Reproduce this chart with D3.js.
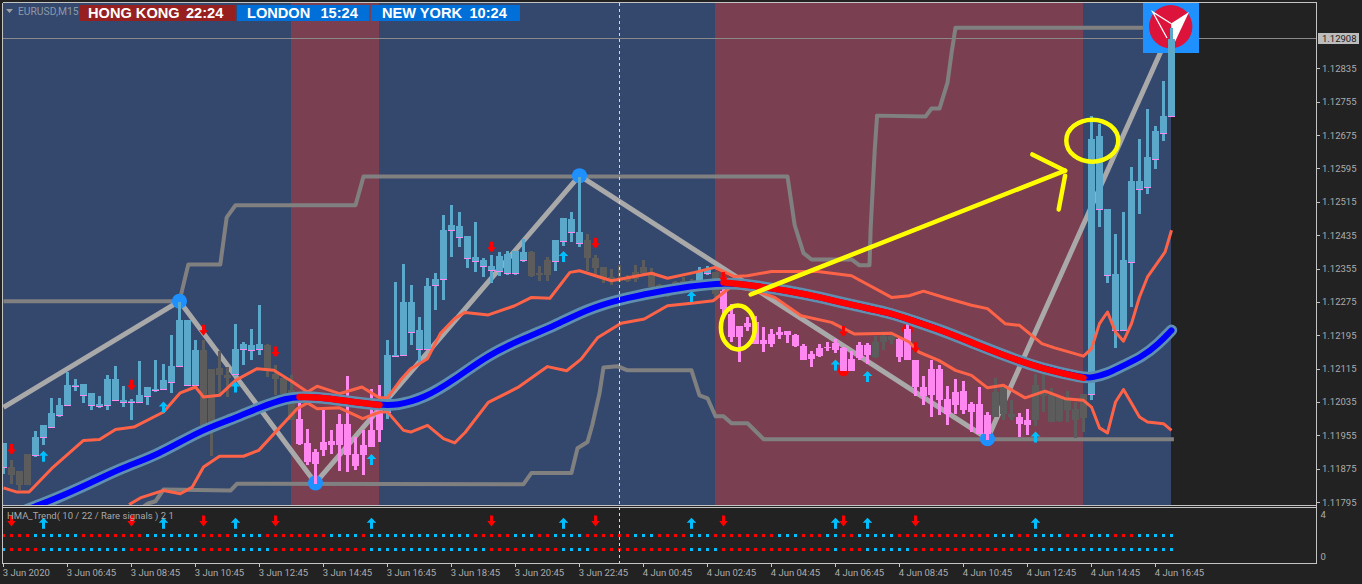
<!DOCTYPE html>
<html><head><meta charset="utf-8">
<script src="https://cdn.jsdelivr.net/npm/d3@7"></script>
<style>html,body{margin:0;padding:0;background:#222;overflow:hidden}svg{display:block}text{font-family:Roboto,"Liberation Sans",Arial,sans-serif}</style>
</head><body><div id="chart"></div>
<script>
// Prices are in points above 1.00000 (12908 = 1.12908). Every series is indexed by M15 bar number.
const highs=[11938,11896,11870,11912,11966,11980,12046,12046,12108,12092,
12080,12058,12050,12100,12122,12074,12044,12134,12072,12138,
12128,12196,12276,12232,12184,12184,12116,12158,12120,12222,
12180,12212,12268,12176,12126,12094,12100,12036,11972,11924,
12016,11970,12008,12098,11952,11970,12068,12076,12184,12325,
12366,12316,12240,12333,12345,12484,12508,12493,12435,12469,
12381,12389,12397,12399,12399,12427,12399,12363,12385,12425,
12477,12493,12575,12439,12389,12359,12355,12365,12341,12365,
12377,12357,12319,12315,12327,12335,12331,12359,12363,12349,
12307,12271,12219,12239,12243,12215,12211,12217,12207,12199,
12175,12159,12175,12179,12187,12167,12159,12179,12177,12195,
12199,12199,12191,12224,12138,12098,12136,12124,12074,12092,
12086,12036,12072,12012,12094,12076,12042,12010,12020,12104,
12104,12070,12048,12062,12036,12056,12721,12704,12500,12440,
12493,12599,12668,12740,12699,12807,12934];
const bodyTops=[11938,11880,11870,11912,11952,11980,12010,12030,12076,12078,
12080,12058,12032,12092,12092,12042,12038,12054,12072,12068,
12088,12122,12232,12232,12162,12160,12116,12118,12100,12164,
12176,12172,12174,12172,12104,12094,12064,11996,11938,11916,
11940,11942,11984,11984,11912,11932,11970,12024,12148,12150,
12275,12276,12208,12314,12330,12448,12460,12459,12435,12385,
12377,12363,12387,12391,12399,12395,12395,12345,12377,12425,
12477,12475,12443,12425,12381,12359,12335,12331,12335,12349,
12359,12347,12317,12311,12323,12327,12327,12347,12355,12347,
12303,12247,12219,12225,12227,12185,12199,12203,12207,12197,
12171,12151,12165,12169,12177,12165,12139,12173,12173,12179,
12195,12195,12187,12212,12138,12072,12116,12116,12044,12060,
12062,12032,12032,12006,12060,12072,12008,12000,11992,12076,
12064,12052,12048,12040,12020,12056,12668,12673,12500,12342,
12376,12565,12565,12623,12685,12723,12908];
const bodyBottoms=[11880,11862,11836,11838,11908,11952,11976,12006,12030,12074,
12054,12030,12026,12030,12042,12037,12035,12036,12050,12066,
12068,12085,12122,12076,12078,11980,11976,12100,12094,12104,
12164,12162,12163,12116,12091,12056,11992,11936,11892,11888,
11920,11934,11932,11908,11882,11908,11928,11968,12012,12146,
12148,12204,12164,12164,12316,12330,12448,12433,12381,12375,
12363,12353,12351,12345,12345,12377,12339,12341,12341,12375,
12423,12443,12417,12381,12357,12333,12331,12327,12327,12331,
12345,12311,12299,12291,12309,12313,12313,12325,12345,12295,
12259,12191,12193,12217,12175,12175,12175,12197,12197,12171,
12137,12139,12147,12165,12161,12111,12111,12141,12149,12143,
12179,12185,12143,12136,12072,12050,12054,12040,12008,12030,
12018,12012,11960,11960,12000,12008,12000,11984,11982,11992,
12050,11988,11990,12018,11994,11998,12056,12500,12340,12208,
12208,12371,12548,12551,12620,12682,12721];
const lows=[11864,11840,11824,11838,11904,11932,11974,12000,12028,12062,
12034,12018,12022,12018,12040,12024,11994,12036,12028,12060,
12066,12058,12120,12076,12076,11980,11906,12052,12048,12098,
12126,12138,12150,12096,12054,12056,11992,11932,11884,11840,
11906,11912,11870,11868,11872,11860,11928,11940,11996,12146,
12148,12172,12124,12164,12256,12280,12383,12409,12357,12347,
12335,12321,12339,12341,12341,12373,12337,12327,12327,12351,
12411,12419,12409,12351,12343,12321,12317,12323,12323,12325,
12343,12311,12295,12287,12307,12311,12311,12323,12341,12287,
12247,12181,12133,12207,12175,12157,12167,12187,12177,12167,
12137,12119,12143,12159,12153,12111,12111,12137,12127,12141,
12161,12175,12131,12136,12050,12028,12000,12004,11980,12008,
12008,11964,11960,11944,12000,11994,11994,11952,11958,11978,
12012,11988,11988,11988,11950,11964,12042,12457,12321,12165,
12206,12263,12488,12536,12594,12661,12721];
// candle colour runs: [first bar, kind]  b=up, p=down, g=neutral
const candleKindRuns=[[0,'b'],[1,'g'],[4,'b'],[25,'g'],[29,'b'],[33,'g'],[37,'p'],[48,'b'],[66,'g'],[69,'b'],[73,'g'],[87,'b'],[89,'g'],[90,'p'],[109,'g'],[112,'p'],[124,'g'],[127,'p'],[129,'g'],[136,'b']];

const upperBand=[[0,11830],[1.7,11820],[3.2,11820],[6,11876],[10,11944],[12,11946],[14,11970],[16.3,11976],[20,12012],[22.1,12058],[24,12072],[25,12048],[27,12052],[29,12088],[31.7,12116],[33.8,12112],[36,12086],[38,12060],[39.2,12074],[42,12056],[44.8,12072],[47,12046],[48,12046],[49.6,12088],[50.9,12116],[53,12140],[54.6,12200],[56.4,12236],[57.7,12251],[60.6,12245],[63.9,12267],[66,12287],[68.3,12285],[70.8,12347],[72,12351],[76,12327],[81,12345],[83,12333],[86.4,12347],[88.9,12359],[91.4,12337],[93,12339],[96,12349],[101.8,12349],[106,12339],[111,12287],[113.2,12291],[115,12302],[117.7,12286],[121,12268],[123,12260],[125.2,12224],[127,12220],[129.8,12176],[131.4,12166],[135,12146],[136,12164],[137,12224],[138,12252],[139,12204],[140,12182],[141,12224],[142,12288],[143,12336],[145.2,12396],[146,12448]];
const lowerBand=[[15.7,11790],[17.1,11806],[20,11824],[22.1,11816],[23.6,11832],[25,11880],[27,11906],[30,11906],[31.9,11920],[34.2,11968],[36.7,12020],[38,12034],[39.2,12020],[42,12022],[44.9,11996],[47,12012],[48,12012],[50,11968],[50.9,11964],[53,11980],[55,11948],[56.4,11938],[57.7,11963],[60.6,12035],[64.3,12071],[68,12121],[70.4,12111],[72.2,12139],[74.3,12191],[77.2,12225],[80.1,12235],[83,12267],[86,12273],[88.7,12279],[91,12313],[93.9,12303],[96.4,12287],[99.7,12243],[103.5,12227],[106.4,12199],[111,12201],[113.2,12180],[114.4,12156],[116.9,12136],[119,12112],[121,12100],[123,12070],[125,12076],[127.7,12046],[130.2,12062],[132.7,12044],[135,12040],[136,12024],[137,11974],[138,11962],[139,12036],[140,12066],[142,12000],[143,11988],[145,11984],[146,11968]];
const hullMA=[[2,11770],[4.2,11788],[6,11800],[10.9,11842],[15,11880],[19.2,11908],[24.6,11968],[28.8,11996],[32.1,12024],[35.5,12046],[37,12048],[39.2,12048],[43.8,12036],[47,12029],[49.2,12028],[52.5,12044],[56.4,12090],[60.6,12149],[64.8,12187],[68.9,12219],[73,12259],[77.2,12283],[81.4,12299],[85.6,12313],[90,12323],[93.9,12315],[98,12303],[102.2,12287],[106.4,12267],[110.6,12251],[113.2,12234],[117.3,12208],[121.4,12176],[125.6,12144],[129.8,12116],[135,12094],[136,12094],[138,12104],[139.8,12122],[142.3,12144],[144.4,12176],[146,12208]];
const hullDownRanges=[[37,47],[90,135]];
const channelTop=[[0,12278],[22,12278],[23.1,12366],[27.1,12366],[27.9,12479],[29,12508],[44,12508],[45,12577],[98,12577],[98.9,12460],[100,12393],[101,12378],[106,12378],[107,12364],[108.25,12364],[108.4,12455],[108.9,12639],[109.2,12723],[115.25,12721],[116,12740],[117,12740],[118,12802],[118.5,12872],[119,12934],[146,12934]];
const channelBottom=[[17.5,11785],[18,11792],[19,11798],[20,11826],[28.4,11824],[29.2,11840],[65,11839],[66,11866],[71,11866],[71.75,11925],[73,11940],[73.6,11981],[74.5,12057],[75,12119],[76.75,12122],[78,12112],[86,12112],[87,12052],[88,12045],[89,12002],[90,12002],[91,11985],[93,11985],[95,11947],[146.3,11947]];
const zigzag=[[0,12023],[22,12278],[39,11842],[72,12579],[123,11948],[146,12934]];
const zigzagPivots=[[22,12278],[39,11842],[72,12579],[123,11948]];
const redDots=[[105,12111],[113,12210]];
const downArrows=[[1,11922],[16,12076],[25,12208],[34,12156],[61,12407],[74,12417],[90,12335],[105,12205],[114,12166]];
const upArrows=[[5,11906],[20,12024],[29,12072],[46,11898],[70,12385],[86,12289],[104,12125],[108,12097],[129,11952]];
const row1Runs=[[0,'r'],[4,'c'],[10,'r'],[18,'c'],[25,'r'],[29,'c'],[33,'r'],[41,'c'],[45,'r'],[46,'c'],[59,'r'],[64,'c'],[67,'r'],[69,'c'],[73,'r'],[79,'c'],[82,'r'],[86,'c'],[89,'r'],[97,'c'],[100,'r'],[103,'c'],[105,'r'],[107,'c'],[112,'r'],[124,'c'],[127,'r'],[129,'c'],[133,'r'],[136,'c'],[139,'r'],[142,'c']];
const row2Runs=[[0,'c'],[1,'r'],[5,'c'],[16,'r'],[20,'c'],[25,'r'],[29,'c'],[34,'r'],[46,'c'],[61,'r'],[70,'c'],[74,'r'],[86,'c'],[90,'r'],[104,'c'],[105,'r'],[108,'c'],[114,'r'],[129,'c']];
const sessions=[[0,36,'a'],[36,47,'l'],[47,89,'a'],[89,135,'l'],[135,146,'a']];
const priceTicks=[12835,12755,12675,12595,12515,12435,12355,12275,12195,12115,12035,11955,11875,11795];
const lastPrice=12908;
const timeBars=[0,8,16,24,32,40,48,56,64,72,80,88,96,104,112,120,128,136,144];
const timeLabels=["3 Jun 2020","3 Jun 06:45","3 Jun 08:45","3 Jun 10:45","3 Jun 12:45","3 Jun 14:45","3 Jun 16:45","3 Jun 18:45","3 Jun 20:45","3 Jun 22:45","4 Jun 00:45","4 Jun 02:45","4 Jun 04:45","4 Jun 06:45","4 Jun 08:45","4 Jun 10:45","4 Jun 12:45","4 Jun 14:45","4 Jun 16:45"];
const subTicks=[4,0];
const crosshairBar=77;
const clocks=[["HONG KONG","22:24"],["LONDON","15:24"],["NEW YORK","10:24"]];
const arrowLine=[[93.4,12294],[132.7,12591]];
const arrowHeadA=[[128.6,12630],[132.7,12591]];
const arrowHeadB=[[132.7,12579],[131.9,12498]];
const circledSpots=[[91.8,12215,18,23],[136.1,12663,27,22]];

const W=1362,H=584;
const x=d3.scaleLinear().domain([0,146]).range([3.5,1171.5]);
const y=d3.scaleLinear().domain([11795,12908]).range([502.5,38.5]);
const ySub=d3.scaleLinear().domain([0,4]).range([556.5,514.5]);
const svg=d3.select('#chart').append('svg').attr('width',W).attr('height',H);
svg.append('rect').attr('width',W).attr('height',H).attr('fill','#222222');
const defs=svg.append('defs');
defs.append('clipPath').attr('id','mainClip').append('rect').attr('x',3).attr('y',3).attr('width',1313).attr('height',502);

const kindAt=(runs,i)=>{let k=runs[0][1];for(const r of runs){if(r[0]<=i)k=r[1];}return k;};
const candles=d3.range(highs.length).map(i=>({i,h:highs[i],t:bodyTops[i],b:bodyBottoms[i],l:lows[i],k:kindAt(candleKindRuns,i)}));
const candleColor={b:'#5ba8cb',p:'#ff88f0',g:'#5c5c5c'};
const line=d3.line().x(d=>x(d[0])).y(d=>y(d[1]));
const smooth=d3.line().x(d=>x(d[0])).y(d=>y(d[1])).curve(d3.curveBasis);

const main=svg.append('g').attr('clip-path','url(#mainClip)');
// session bands
main.selectAll('.band').data(sessions).join('rect')
 .attr('x',d=>d[0]===0?3:x(d[0])-0.5).attr('y',3).attr('height',502)
 .attr('width',d=>x(d[1])-0.5-(d[0]===0?3:x(d[0])-0.5)).attr('fill',d=>d[2]==='a'?'#34476d':'#7a4052');
// last price line
main.append('line').attr('x1',3).attr('x2',1316).attr('y1',Math.floor(y(lastPrice))+0.5).attr('y2',Math.floor(y(lastPrice))+0.5).attr('stroke','#8a8a8a');
// channels
[channelTop,channelBottom].forEach(c=>main.append('path').attr('d',line(c)).attr('fill','none').attr('stroke','#808080').attr('stroke-width',4).attr('stroke-linejoin','round'));
// zigzag
main.append('path').attr('d',line(zigzag)).attr('fill','none').attr('stroke','#a9a9a9').attr('stroke-width',5).attr('stroke-linejoin','round');
main.selectAll('.piv').data(zigzagPivots).join('circle').attr('cx',d=>x(d[0])).attr('cy',d=>y(d[1])).attr('r',7.5).attr('fill','#1e90ff');
main.selectAll('.rdot').data(redDots).join('circle').attr('cx',d=>x(d[0])).attr('cy',d=>y(d[1])).attr('r',5.5).attr('fill','#ff0000');
// logo
const logo=svg.append('g');
logo.append('rect').attr('x',1143).attr('y',3).attr('width',56).attr('height',50).attr('fill','#1e90ff');
logo.append('circle').attr('cx',1170.7).attr('cy',26.7).attr('r',21.7).attr('fill','#dc143c');
logo.append('path').attr('d','M1189,12L1171,23.5L1173,46Z').attr('fill','#ffffff');
logo.append('path').attr('d','M1171,23.5L1152.7,12L1167,38').attr('fill','none').attr('stroke','#fff').attr('stroke-width',1.3);
// candles
const cg=svg.append('g').attr('clip-path','url(#mainClip)').attr('shape-rendering','crispEdges');
cg.selectAll('.wick').data(candles).join('rect')
 .attr('x',d=>x(d.i)-1.5).attr('width',3).attr('y',d=>y(d.h)).attr('height',d=>Math.max(1,y(d.l)-y(d.h))).attr('fill',d=>candleColor[d.k]);
cg.selectAll('.body').data(candles).join('rect')
 .attr('x',d=>x(d.i)-3.5).attr('width',7).attr('y',d=>y(d.t)).attr('height',d=>Math.max(1,y(d.b)-y(d.t))).attr('fill',d=>candleColor[d.k]);
cg.selectAll('.tick').data(candles.filter(d=>d.k==='b')).join('rect')
 .attr('x',d=>x(d.i)-3.5).attr('width',7).attr('y',d=>y(d.b)).attr('height',1).attr('fill','#ff88f0');
// bands
const over=svg.append('g').attr('clip-path','url(#mainClip)');
[upperBand,lowerBand].forEach(b=>over.append('path').attr('d',line(b)).attr('fill','none').attr('stroke','#ff6347').attr('stroke-width',3).attr('stroke-linejoin','round'));
// hull
over.append('path').attr('d',smooth(hullMA)).attr('fill','none').attr('stroke','#5f8fb0').attr('stroke-width',11.5).attr('stroke-linecap','round');
over.append('path').attr('d',smooth(hullMA)).attr('fill','none').attr('stroke','#0000ff').attr('stroke-width',6).attr('stroke-linecap','round');
hullDownRanges.forEach(r=>{
 over.append('path').attr('d',smooth(hullMA.filter(d=>d[0]>=r[0]&&d[0]<=r[1]))).attr('fill','none').attr('stroke','#ff0000').attr('stroke-width',6.5).attr('stroke-linecap','round');
});
// signal arrows
const downPath='M-1.5,-5.5H1.5V0H4.3L0,5.5L-4.3,0H-1.5Z';
const upPath='M-1.5,5.5H1.5V-0.5H4.8L0,-5.5L-4.8,-0.5H-1.5Z';
over.selectAll('.da').data(downArrows).join('path').attr('d',downPath).attr('fill','#ff0000').attr('transform',d=>`translate(${x(d[0])},${y(d[1])})`);
over.selectAll('.ua').data(upArrows).join('path').attr('d',upPath).attr('fill','#00bfff').attr('transform',d=>`translate(${x(d[0])},${y(d[1])})`);
// sub panel
const sub=svg.append('g');
sub.selectAll('.da').data(downArrows).join('path').attr('d',downPath).attr('fill','#ff0000').attr('transform',d=>`translate(${x(d[0])},${ySub(3.38)})`);
sub.selectAll('.ua').data(upArrows).join('path').attr('d',upPath).attr('fill','#00bfff').attr('transform',d=>`translate(${x(d[0])},${ySub(3.16)})`);
const dotColor={r:'#ff0000',c:'#00bfff'};
[[row1Runs,2],[row2Runs,0.69]].forEach(([runs,v])=>{
 sub.append('g').attr('shape-rendering','crispEdges').selectAll('rect').data(d3.range(147)).join('rect')
  .attr('x',i=>x(i)-1.5).attr('y',Math.floor(ySub(v))-1).attr('width',3).attr('height',3).attr('fill',i=>dotColor[kindAt(runs,i)]);
});
sub.append('text').attr('x',7).attr('y',518.5).attr('font-size',9.5).attr('fill','#a8a8a8').text('HMA_Trend( 10 / 22 / Rare signals ) 2 1');
// frame
const frameColor='#c4c4c4';
const fr=svg.append('g').attr('stroke',frameColor).attr('shape-rendering','crispEdges').attr('fill','none');
[[2.5,2.5,1316.5,2.5],[2.5,2.5,2.5,563.5],[2.5,505.5,1316.5,505.5],[2.5,507.5,1316.5,507.5],[2.5,563.5,1316.5,563.5],[1316.5,2.5,1316.5,563.5]].forEach(l=>fr.append('line').attr('x1',l[0]).attr('y1',l[1]).attr('x2',l[2]).attr('y2',l[3]));
// crosshair
svg.append('line').attr('x1',x(crosshairBar)).attr('x2',x(crosshairBar)).attr('y1',3).attr('y2',563).attr('stroke','#d8d8d8').attr('stroke-dasharray','3,3').attr('shape-rendering','crispEdges');
// axes
const fmt=d=>(1+d/1e5).toFixed(5);
const yAxis=d3.axisRight(y).tickValues(priceTicks).tickFormat(fmt).tickSize(3).tickPadding(3).offset(0);
const ya=svg.append('g').attr('transform','translate(1316.5,0)').call(yAxis);
const xAxis=d3.axisBottom(x).tickValues(timeBars).tickFormat((d,i)=>timeLabels[i]).tickSize(3).tickPadding(3).offset(0);
const xa=svg.append('g').attr('transform','translate(0,563.5)').call(xAxis);
const sa=svg.append('g').attr('transform','translate(1316.5,0)').call(d3.axisRight(ySub).tickValues(subTicks).tickSize(0).tickPadding(4).tickFormat(d=>d).offset(0));
[ya,xa,sa].forEach(a=>{a.select('.domain').remove();a.selectAll('line').attr('stroke',frameColor).attr('shape-rendering','crispEdges');a.selectAll('text').attr('fill','#acacac').attr('font-size',9.5).style('font-family','Roboto,"Liberation Sans",Arial,sans-serif');});
xa.selectAll('text').attr('text-anchor','start').attr('dx',-0.8).attr('y',5.5);
ya.selectAll('text').attr('x',5.5);
// price tag
svg.append('rect').attr('x',1318).attr('y',y(lastPrice)-5.5).attr('width',41).attr('height',11).attr('fill','#bdbdbd');
svg.append('text').attr('x',1322).attr('y',y(lastPrice)+3.6).attr('font-size',9.5).attr('fill','#222').text(fmt(lastPrice));
// yellow annotation
const ann=svg.append('g').attr('fill','none').attr('stroke','#ffff00').attr('stroke-width',4.5).attr('stroke-linecap','round');
[arrowLine,arrowHeadA,arrowHeadB].forEach(s=>ann.append('path').attr('d',line(s)));
ann.selectAll('ellipse').data(circledSpots).join('ellipse').attr('cx',d=>x(d[0])).attr('cy',d=>y(d[1])).attr('rx',d=>d[2]-1).attr('ry',d=>d[3]-1);
// header
svg.append('path').attr('d','M6,9H13L9.5,13Z').attr('fill','#a0a0a0');
svg.append('text').attr('x',18).attr('y',14.5).attr('font-size',10.3).attr('fill','#8c9aa8').text('EURUSD,M15');
const boxes=[[80,155,'#962020',88,186],[237,132,'#0070d8',247,320.5],[371,149,'#0070d8',382,469.5]];
clocks.forEach((c,i)=>{
 const b=boxes[i];
 svg.append('rect').attr('x',b[0]).attr('y',5).attr('width',b[1]).attr('height',16).attr('fill',b[2]);
 svg.append('text').attr('x',b[3]).attr('y',18.3).attr('font-size',14.6).attr('font-weight','bold').attr('fill','#fff').style('font-family','"Liberation Sans",Arial,sans-serif').text(c[0]);
 svg.append('text').attr('x',b[4]).attr('y',18.3).attr('font-size',14.6).attr('font-weight','bold').attr('fill','#fff').style('font-family','"Liberation Sans",Arial,sans-serif').text(c[1]);
});
</script></body></html>
